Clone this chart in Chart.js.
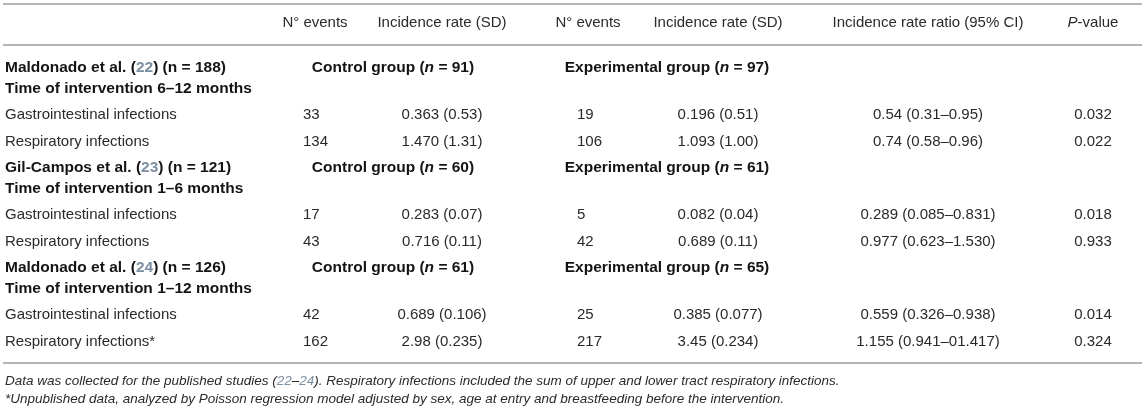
<!DOCTYPE html>
<html>
<head>
<meta charset="utf-8">
<script src="https://cdn.jsdelivr.net/npm/chart.js@4.4.0/dist/chart.umd.min.js"></script>
<style>
  html, body { margin: 0; padding: 0; background: #fff; }
  canvas { display: block; }
</style>
</head>
<body>
<canvas id="incidence-table" width="1145" height="413"></canvas>
<script>
// table values
var headers = ['N° events', 'Incidence rate (SD)', 'N° events', 'Incidence rate (SD)', 'Incidence rate ratio (95% CI)', 'P-value'];
var studies = ['Maldonado et al.', 'Gil-Campos et al.', 'Maldonado et al.'];
var refs = ['22', '23', '24'];
var studyN = [188, 121, 126];
var interventionTime = ['6–12', '1–6', '1–12'];
var controlN = [91, 60, 61];
var experimentalN = [97, 61, 65];
var outcomes = ['Gastrointestinal infections', 'Respiratory infections',
                'Gastrointestinal infections', 'Respiratory infections',
                'Gastrointestinal infections', 'Respiratory infections*'];
var controlEvents = [33, 134, 17, 43, 42, 162];
var controlRate = ['0.363 (0.53)', '1.470 (1.31)', '0.283 (0.07)', '0.716 (0.11)', '0.689 (0.106)', '2.98 (0.235)'];
var expEvents = [19, 106, 5, 42, 25, 217];
var expRate = ['0.196 (0.51)', '1.093 (1.00)', '0.082 (0.04)', '0.689 (0.11)', '0.385 (0.077)', '3.45 (0.234)'];
var rateRatio = ['0.54 (0.31–0.95)', '0.74 (0.58–0.96)', '0.289 (0.085–0.831)', '0.977 (0.623–1.530)', '0.559 (0.326–0.938)', '1.155 (0.941–01.417)'];
var pValues = ['0.032', '0.022', '0.018', '0.933', '0.014', '0.324'];
var noteRefs = ['22', '24'];

// layout, in scale units
var colX = { label: 5, ctrlEvents: 303, ctrlRate: 442, expEvents: 577, expRate: 718, irr: 928, p: 1093 };
var headerX = [315, 442, 588, 718, 928, 1093];
var groupX = [393, 667];
var ruleY = [4, 45, 363];
var headerY = 23;
var sectionTop = 68, sectionStep = 100;
var rowOffset = { time: 21, first: 47, second: 74 };
var noteY = [381, 399];

var textColor = '#2a2a2a';
var boldColor = '#141414';
var refColor = '#7d8fa3';
var family = '"Liberation Sans", Arial, sans-serif';

function run(t, o) { var r = { t: t }; for (var k in o) r[k] = o[k]; return r; }

var cells = [];
function cell(x, y, runs, align, size) {
    if (typeof runs === 'string') runs = [run(runs)];
    cells.push({ x: x, y: y, runs: runs, align: align || 'left', size: size || 15 });
}

headers.forEach(function (h, i) {
    if (i === 5) cell(headerX[i], headerY, [run('P', { i: true }), run('-value')], 'center');
    else cell(headerX[i], headerY, h, 'center');
});

for (var s = 0; s < studies.length; s++) {
    var base = sectionTop + s * sectionStep;
    cell(colX.label, base, [run(studies[s] + ' (', { b: true }), run(refs[s], { b: true, ref: true }),
        run(') (n = ' + studyN[s] + ')', { b: true })]);
    cell(groupX[0], base, [run('Control group (', { b: true }), run('n', { b: true, i: true }),
        run(' = ' + controlN[s] + ')', { b: true })], 'center');
    cell(groupX[1], base, [run('Experimental group (', { b: true }), run('n', { b: true, i: true }),
        run(' = ' + experimentalN[s] + ')', { b: true })], 'center');
    cell(colX.label, base + rowOffset.time, [run('Time of intervention ' + interventionTime[s] + ' months', { b: true })]);
    for (var r = 0; r < 2; r++) {
        var k = s * 2 + r;
        var y = base + (r === 0 ? rowOffset.first : rowOffset.second);
        cell(colX.label, y, outcomes[k]);
        cell(colX.ctrlEvents, y, String(controlEvents[k]));
        cell(colX.ctrlRate, y, controlRate[k], 'center');
        cell(colX.expEvents, y, String(expEvents[k]));
        cell(colX.expRate, y, expRate[k], 'center');
        cell(colX.irr, y, rateRatio[k], 'center');
        cell(colX.p, y, pValues[k], 'center');
    }
}

cell(colX.label, noteY[0], [run('Data was collected for the published studies (', { i: true }),
    run(noteRefs[0], { i: true, ref: true }), run('–', { i: true }), run(noteRefs[1], { i: true, ref: true }),
    run('). Respiratory infections included the sum of upper and lower tract respiratory infections.', { i: true })],
    'left', 13.5);
cell(colX.label, noteY[1], [run('*Unpublished data, analyzed by Poisson regression model adjusted by sex, age at entry and breastfeeding before the intervention.', { i: true })],
    'left', 13.5);

function fontFor(r, size) {
    // bold runs come out a touch larger in the original
    var px = r.b ? size + 0.5 : size;
    return (r.i ? 'italic ' : '') + (r.b ? 'bold ' : '') + px + 'px ' + family;
}

var tablePlugin = {
    id: 'tableText',
    beforeDatasetsDraw: function (chart) {
        var ctx = chart.ctx, xs = chart.scales.x, ys = chart.scales.y;
        ctx.save();
        ctx.strokeStyle = '#b4b4b4';
        ctx.lineWidth = 2;
        ruleY.forEach(function (v) {
            var py = Math.round(ys.getPixelForValue(v));
            ctx.beginPath();
            ctx.moveTo(xs.getPixelForValue(3), py);
            ctx.lineTo(xs.getPixelForValue(1142), py);
            ctx.stroke();
        });
        ctx.restore();
    },
    afterDatasetsDraw: function (chart) {
        var ctx = chart.ctx;
        var meta = chart.getDatasetMeta(0);
        ctx.save();
        ctx.textBaseline = 'middle';
        ctx.textAlign = 'left';
        meta.data.forEach(function (el, i) {
            var c = cells[i];
            var widths = c.runs.map(function (r) { ctx.font = fontFor(r, c.size); return ctx.measureText(r.t).width; });
            var total = widths.reduce(function (a, b) { return a + b; }, 0);
            var x = c.align === 'center' ? el.x - total / 2 : el.x;
            c.runs.forEach(function (r, j) {
                ctx.font = fontFor(r, c.size);
                ctx.fillStyle = r.ref ? refColor : (r.b ? boldColor : textColor);
                ctx.fillText(r.t, x, el.y);
                x += widths[j];
            });
        });
        ctx.restore();
    }
};

var ctx = document.getElementById('incidence-table').getContext('2d');
var tableChart = new Chart(ctx, {
    type: 'scatter',
    data: {
        datasets: [{
            label: 'cells',
            data: cells.map(function (c) { return { x: c.x, y: c.y }; }),
            pointRadius: 0,
            pointHoverRadius: 0
        }]
    },
    options: {
        responsive: false,
        animation: false,
        events: [],
        layout: { padding: 0 },
        plugins: { legend: { display: false }, tooltip: { enabled: false } },
        scales: {
            x: { type: 'linear', min: 0, max: 1145, display: false },
            y: { type: 'linear', min: 0, max: 413, reverse: true, display: false }
        }
    },
    plugins: [tablePlugin]
});
</script>
</body>
</html>
